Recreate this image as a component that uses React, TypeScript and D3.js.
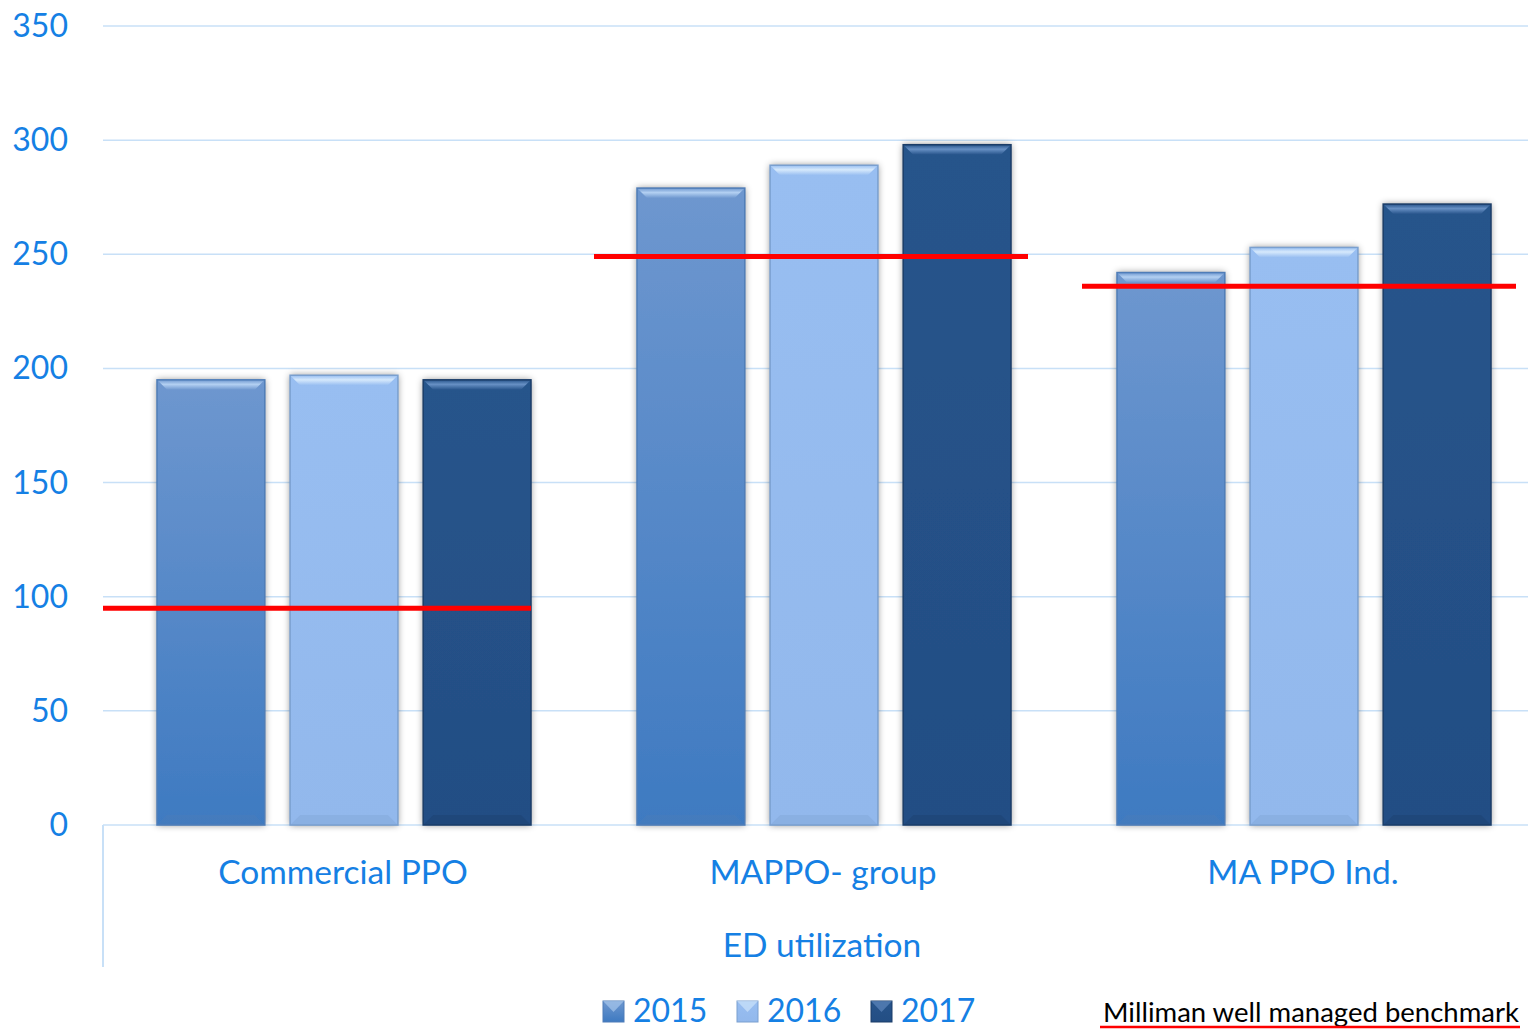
import React from "react";
import * as d3 from "d3";

const categories = ["Commercial PPO", "MAPPO- group", "MA PPO Ind."];
const years = ["2015", "2016", "2017"];
const values2015 = [195, 279, 242];
const values2016 = [197, 289, 253];
const values2017 = [195, 298, 272];
const benchmark = [95, 249, 236];
const yTicks = [0, 50, 100, 150, 200, 250, 300, 350];
const axisTitle = "ED utilization";
const benchmarkLabel = "Milliman well managed benchmark";

const series = [values2015, values2016, values2017];

const W = 1528;
const H = 1030;
const plotLeft = 103;
const bandW = 480;
const yTop = 26;
const yBottom = 825;
// layout offsets of benchmark strokes within each category band
const benchOffset = [-6, 11, 19];
const benchLen = 434;

const palette = [
  { top: "#6e97cf", bottom: "#3e7ac1", bevel: "#b3d0f2", edge: "#4f7db8" },
  { top: "#98bef1", bottom: "#92b8ec", bevel: "#d6e9fc", edge: "#7aa0d0" },
  { top: "#27548b", bottom: "#234e84", bevel: "#6790c4", edge: "#1b3d68" },
];

const textBlue = "#1580e4";
const gridColor = "#c8e0f7";
const font = "Lato, 'Open Sans', sans-serif";

export default function App() {
  const x = d3
    .scaleBand<string>()
    .domain(categories)
    .range([plotLeft, plotLeft + bandW * categories.length])
    .paddingInner(0)
    .paddingOuter(0);
  const xi = d3
    .scaleBand<string>()
    .domain(years)
    .range([54, bandW - 52])
    .paddingInner(0.19)
    .paddingOuter(0);
  const y = d3.scaleLinear().domain([0, 350]).range([yBottom, yTop]);
  const bw = xi.bandwidth();
  const bev = 10;

  return (
    <svg width={W} height={H} style={{ position: "absolute", left: 0, top: 0, background: "#fff" }}>
      <defs>
        {palette.map((p, i) => (
          <linearGradient key={i} id={`g${i}`} x1="0" y1="0" x2="0" y2="1">
            <stop offset="0" stopColor={p.top} />
            <stop offset="1" stopColor={p.bottom} />
          </linearGradient>
        ))}
        {palette.map((p, i) => (
          <linearGradient key={"b" + i} id={`bv${i}`} x1="0" y1="0" x2="0" y2="1">
            <stop offset="0" stopColor={p.top} />
            <stop offset="0.45" stopColor={p.bevel} />
            <stop offset="1" stopColor={p.top} />
          </linearGradient>
        ))}
        <filter id="shadow" x="-20%" y="-5%" width="140%" height="110%">
          <feDropShadow dx="0" dy="0" stdDeviation="3.5" floodColor="#000" floodOpacity="0.45" />
        </filter>
      </defs>

      {/* gridlines */}
      {yTicks.map((t) => (
        <line key={t} x1={plotLeft} x2={W} y1={y(t)} y2={y(t)} stroke={gridColor} strokeWidth={1.5} />
      ))}
      <line x1={plotLeft} x2={plotLeft} y1={yBottom} y2={967} stroke={gridColor} strokeWidth={2} />

      {/* tick labels */}
      {yTicks.map((t) => (
        <text key={t} x={68} y={y(t) + 11} textAnchor="end" fontFamily={font} fontSize={32} fill={textBlue}>
          {t}
        </text>
      ))}

      {/* bars */}
      {categories.map((c, ci) => (
        <g key={c} transform={`translate(${x(c)},0)`}>
          {series.map((s, si) => {
            const bx = xi(years[si])!;
            const by = y(s[ci]);
            const h = yBottom - by;
            return (
              <g key={si}>
                <rect x={bx} y={by} width={bw} height={h} fill={`url(#g${si})`} filter="url(#shadow)" />
                <polygon
                  points={`${bx},${by} ${bx + bw},${by} ${bx + bw - bev},${by + bev} ${bx + bev},${by + bev}`}
                  fill={`url(#bv${si})`}
                />
                <polygon
                  points={`${bx},${yBottom} ${bx + bw},${yBottom} ${bx + bw - bev},${yBottom - bev} ${bx + bev},${yBottom - bev}`}
                  fill={palette[si].edge}
                  opacity={0.35}
                />
                <rect x={bx} y={by} width={bw} height={h} fill="none" stroke={palette[si].edge} strokeWidth={1.5} />
              </g>
            );
          })}
        </g>
      ))}

      {/* benchmark lines */}
      {categories.map((c, ci) => {
        const x0 = Math.max(plotLeft, x(c)! + benchOffset[ci]);
        const x1 = x(c)! + benchOffset[ci] + benchLen;
        return (
          <line key={c} x1={x0} x2={x1} y1={y(benchmark[ci])} y2={y(benchmark[ci])} stroke="#ff0000" strokeWidth={5} />
        );
      })}

      {/* category labels */}
      {categories.map((c) => (
        <text
          key={c}
          x={x(c)! + bandW / 2}
          y={884}
          textAnchor="middle"
          fontFamily={font}
          fontSize={33.5}
          fill={textBlue}
        >
          {c}
        </text>
      ))}
      <text x={822} y={957} textAnchor="middle" fontFamily={font} fontSize={33.5} fill={textBlue}>
        {axisTitle}
      </text>

      {/* legend */}
      {years.map((yr, i) => {
        const lx = 603 + i * 134;
        return (
          <g key={yr}>
            <rect x={lx} y={1001} width={21} height={21} fill={`url(#g${i})`} stroke={palette[i].edge} strokeWidth={1} />
            <polygon points={`${lx},${1001} ${lx + 21},${1001} ${lx + 10.5},${1012}`} fill={palette[i].bevel} opacity={0.6} />
            <text x={lx + 30} y={1022} fontFamily={font} fontSize={32} fill={textBlue}>
              {yr}
            </text>
          </g>
        );
      })}
      <text x={1103} y={1022} fontFamily={font} fontSize={27.5} fill="#000">
        {benchmarkLabel}
      </text>
      <line x1={1100} x2={1520} y1={1027} y2={1027} stroke="#ff0000" strokeWidth={2.5} />
    </svg>
  );
}
